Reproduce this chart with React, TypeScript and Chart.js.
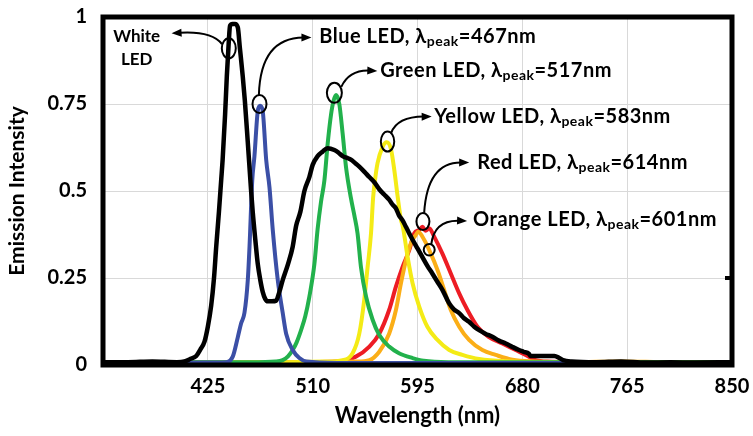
import React, { useEffect, useRef } from 'react';
import { Chart, registerables } from 'chart.js';

Chart.register(...registerables);

// ---------- data ----------
const xMin = 340;
const xMax = 850;
const xStep = 85;
const yTicks = [0, 0.25, 0.5, 0.75, 1];

const whiteNm = [340, 360, 380, 400, 406, 411, 415.6, 419, 422.3, 425, 427.7, 430, 431.8, 434, 435.8, 437, 439, 440.4, 442, 443, 445, 447, 449.3, 451, 453.3, 455, 457.4, 460.1, 461.4, 463.5, 465.5, 467.5, 469.5, 471.5, 473.6, 477, 480.4, 483, 485.7, 490, 493.8, 496.6, 500, 503.3, 507.3, 510, 514, 518, 522, 527.6, 531, 534.3, 538, 541, 544.5, 547.8, 552, 555.9, 560, 564, 568, 572, 575, 577.5, 580, 583, 585.6, 588, 591, 595, 599, 603, 607, 611, 615.2, 620.7, 624.5, 628.8, 632.5, 636.8, 641, 645, 650, 655.7, 661, 666.6, 672, 677.3, 681, 685.4, 686.5, 695, 706, 710, 713, 720, 740, 760, 780, 800, 820, 850];
const whiteVal = [0.008, 0.008, 0.01, 0.008, 0.01, 0.018, 0.026, 0.045, 0.067, 0.11, 0.17, 0.25, 0.34, 0.44, 0.53, 0.59, 0.72, 0.83, 0.93, 0.975, 0.98, 0.98, 0.97, 0.91, 0.83, 0.76, 0.64, 0.5, 0.44, 0.36, 0.29, 0.245, 0.21, 0.19, 0.183, 0.183, 0.185, 0.21, 0.244, 0.29, 0.34, 0.4, 0.44, 0.5, 0.54, 0.575, 0.6, 0.613, 0.623, 0.618, 0.61, 0.6, 0.595, 0.59, 0.58, 0.57, 0.555, 0.54, 0.525, 0.505, 0.49, 0.475, 0.46, 0.45, 0.43, 0.415, 0.397, 0.38, 0.36, 0.335, 0.31, 0.285, 0.263, 0.24, 0.216, 0.177, 0.16, 0.149, 0.135, 0.124, 0.11, 0.1, 0.09, 0.081, 0.07, 0.062, 0.052, 0.043, 0.038, 0.032, 0.026, 0.026, 0.026, 0.02, 0.014, 0.01, 0.008, 0.01, 0.007, 0.008, 0.007, 0.008];

const blueNm = [340, 380, 420, 440, 445.2, 449.3, 452, 454.7, 457.4, 458.8, 461, 462.8, 465.5, 467.4, 469.5, 472.3, 475, 477.6, 481.7, 485.7, 488.5, 493.8, 499.2, 505, 530, 560, 600, 650, 700, 750, 800, 850];
const blueVal = [0.006, 0.006, 0.007, 0.008, 0.024, 0.08, 0.12, 0.15, 0.244, 0.34, 0.53, 0.6, 0.73, 0.745, 0.73, 0.59, 0.51, 0.39, 0.244, 0.15, 0.09, 0.043, 0.02, 0.01, 0.006, 0.006, 0.006, 0.006, 0.006, 0.006, 0.006, 0.006];

const greenNm = [340, 400, 460, 480, 485.7, 490, 493.8, 497, 500.6, 504, 507.3, 511.4, 514, 516.8, 519.5, 522.2, 524.9, 527, 529, 531.6, 534.3, 537, 541, 543.8, 546.4, 549.2, 553.3, 558.6, 564, 572, 580, 591, 600, 620, 650, 700, 750, 800, 850];
const greenVal = [0.008, 0.008, 0.008, 0.01, 0.014, 0.025, 0.043, 0.065, 0.1, 0.14, 0.196, 0.29, 0.39, 0.47, 0.53, 0.637, 0.72, 0.76, 0.776, 0.75, 0.665, 0.57, 0.48, 0.43, 0.378, 0.28, 0.196, 0.13, 0.086, 0.053, 0.034, 0.02, 0.012, 0.008, 0.008, 0.008, 0.008, 0.008, 0.008];

const yellowNm = [340, 400, 480, 520, 534.3, 542.4, 547.8, 551.8, 554.5, 557.3, 559, 560.5, 562.6, 566.7, 570, 573.5, 576.2, 578.9, 581.6, 583, 587, 591, 596.4, 603, 611.2, 620.7, 631.4, 645, 670, 700, 750, 800, 850];
const yellowVal = [0.008, 0.008, 0.008, 0.01, 0.014, 0.034, 0.09, 0.187, 0.28, 0.378, 0.48, 0.53, 0.58, 0.627, 0.64, 0.62, 0.56, 0.484, 0.417, 0.4, 0.31, 0.235, 0.168, 0.11, 0.072, 0.043, 0.029, 0.017, 0.01, 0.008, 0.008, 0.008, 0.008];

const redNm = [340, 400, 480, 530, 545, 556, 564, 572, 577.5, 582.9, 588.3, 592.3, 596.4, 599, 601.5, 604.5, 608.5, 615.2, 622, 628.8, 635.5, 643.6, 652.6, 663.8, 674.6, 682.7, 690, 700, 750, 800, 850];
const redVal = [0.008, 0.008, 0.008, 0.01, 0.024, 0.053, 0.09, 0.158, 0.225, 0.282, 0.33, 0.378, 0.388, 0.397, 0.386, 0.393, 0.369, 0.32, 0.263, 0.206, 0.158, 0.11, 0.081, 0.062, 0.043, 0.029, 0.015, 0.01, 0.008, 0.008, 0.008];

const orangeNm = [340, 400, 500, 545, 556, 564, 572, 577.5, 581.6, 585.6, 589.6, 593.7, 595.5, 600.4, 605.8, 611.2, 616.6, 622, 628.8, 636.8, 647.6, 658.4, 672, 690, 720, 760, 800, 850];
const orangeVal = [0.008, 0.008, 0.008, 0.01, 0.014, 0.038, 0.09, 0.158, 0.235, 0.3, 0.35, 0.374, 0.383, 0.36, 0.32, 0.273, 0.216, 0.158, 0.11, 0.072, 0.043, 0.029, 0.015, 0.01, 0.008, 0.01, 0.008, 0.008];

const seriesNames = ['White LED', 'Blue LED', 'Green LED', 'Yellow LED', 'Orange LED', 'Red LED'];
const peakLabels = ['467', '517', '583', '614', '601'];

// ---------- styles / annotation layout ----------
const FONT = 'Lato, "Open Sans", sans-serif';
const colors = ['#000000', '#3B4FA6', '#22B14C', '#F4EB16', '#FBAE17', '#ED1C24'];
const widths = [4.5, 4, 4, 4, 4, 4];

type Callout = {
  name: string;
  peak: string;
  circle: [number, number];
  rx: number;
  ry: number;
  from: [number, number];
  ctrl: [number, number];
  to: [number, number];
  text: [number, number];
};

const callouts: Callout[] = [
  { name: 'Blue LED, λ', peak: peakLabels[0], circle: [466.9, 0.75], rx: 7, ry: 9, from: [466.4, 0.776], ctrl: [467.7, 0.94], to: [509.0, 0.941], text: [515.4, 0.943] },
  { name: 'Green LED, λ', peak: peakLabels[1], circle: [527.6, 0.782], rx: 7.5, ry: 10, from: [533.2, 0.799], ctrl: [539.7, 0.848], to: [562.4, 0.845], text: [564.8, 0.845] },
  { name: 'Yellow LED, λ', peak: peakLabels[2], circle: [570.7, 0.642], rx: 6.7, ry: 10, from: [573.7, 0.667], ctrl: [578.6, 0.713], to: [606.5, 0.714], text: [608.5, 0.714] },
  { name: 'Red LED, λ', peak: peakLabels[3], circle: [599.4, 0.412], rx: 6.5, ry: 8.5, from: [600.4, 0.437], ctrl: [602.9, 0.583], to: [636.9, 0.582], text: [643.4, 0.583] },
  { name: 'Orange LED, λ', peak: peakLabels[4], circle: [604.5, 0.331], rx: 5.5, ry: 5.8, from: [606.1, 0.346], ctrl: [608.5, 0.417], to: [635.2, 0.414], text: [640.1, 0.417] },
];

const whiteCallout = {
  lines: ['White', 'LED'],
  circle: [442.0, 0.91] as [number, number],
  rx: 7, ry: 10,
  from: [436.5, 0.922] as [number, number],
  ctrl: [428.0, 0.96] as [number, number],
  to: [395.6, 0.953] as [number, number],
  text: [367.3, 0.945] as [number, number],
  lineGap: 0.066,
};

function toPts(nm: number[], val: number[]) {
  return nm.map((x, i) => ({ x, y: val[i] }));
}

const framePlugin = {
  id: 'frameAndCallouts',
  afterDatasetsDraw(chart: any) {
    const { ctx, chartArea } = chart;
    const xs = chart.scales.x;
    const ys = chart.scales.y;
    const P = (p: [number, number]) => [xs.getPixelForValue(p[0]), ys.getPixelForValue(p[1])];
    ctx.save();
    // frame
    ctx.strokeStyle = '#000';
    ctx.lineWidth = 5;
    ctx.strokeRect(chartArea.left, chartArea.top, chartArea.right - chartArea.left, chartArea.bottom - chartArea.top);
    // small tick on right border
    ctx.lineWidth = 4;
    ctx.beginPath();
    const ty = ys.getPixelForValue(yTicks[1]);
    ctx.moveTo(chartArea.right - 7, ty);
    ctx.lineTo(chartArea.right, ty);
    ctx.stroke();

    const drawArrow = (from: [number, number], ctrl: [number, number], to: [number, number], cx: number, cy: number, rx: number, ry: number) => {
      const [ex, ey] = P(to);
      const [fx, fy] = P(from);
      const [qx, qy] = P(ctrl);
      ctx.strokeStyle = '#000';
      ctx.lineWidth = 2;
      ctx.beginPath();
      ctx.ellipse(cx, cy, rx, ry, 0, 0, Math.PI * 2);
      ctx.stroke();
      const ang = Math.atan2(ey - qy, ex - qx);
      const headLen = 10;
      const bx = ex - headLen * 0.8 * Math.cos(ang);
      const by = ey - headLen * 0.8 * Math.sin(ang);
      ctx.beginPath();
      ctx.moveTo(fx, fy);
      ctx.quadraticCurveTo(qx, qy, bx, by);
      ctx.stroke();
      ctx.fillStyle = '#000';
      ctx.beginPath();
      ctx.moveTo(ex, ey);
      ctx.lineTo(ex - headLen * Math.cos(ang) + 4 * Math.sin(ang), ey - headLen * Math.sin(ang) - 4 * Math.cos(ang));
      ctx.lineTo(ex - headLen * Math.cos(ang) - 4 * Math.sin(ang), ey - headLen * Math.sin(ang) + 4 * Math.cos(ang));
      ctx.closePath();
      ctx.fill();
    };

    // white callout
    {
      const [cx, cy] = P(whiteCallout.circle);
      drawArrow(whiteCallout.from, whiteCallout.ctrl, whiteCallout.to, cx, cy, whiteCallout.rx, whiteCallout.ry);
      ctx.font = `bold 17px ${FONT}`;
      ctx.textAlign = 'center';
      ctx.textBaseline = 'middle';
      ctx.fillStyle = '#000';
      whiteCallout.lines.forEach((t, i) => {
        const [tx, tyy] = P([whiteCallout.text[0], whiteCallout.text[1] - i * whiteCallout.lineGap]);
        ctx.fillText(t, tx, tyy);
      });
    }

    for (const c of callouts) {
      const [cx, cy] = P(c.circle);
      drawArrow(c.from, c.ctrl, c.to, cx, cy, c.rx, c.ry);
      const [tx, tyy] = P(c.text);
      ctx.fillStyle = '#000';
      ctx.textAlign = 'left';
      ctx.textBaseline = 'middle';
      (ctx as any).letterSpacing = '0.5px';
      ctx.font = `bold 20px ${FONT}`;
      ctx.fillText(c.name, tx, tyy);
      let x = tx + ctx.measureText(c.name).width;
      ctx.font = `bold 14px ${FONT}`;
      ctx.fillText('peak', x, tyy + 5);
      x += ctx.measureText('peak').width;
      ctx.font = `bold 20px ${FONT}`;
      ctx.fillText('=' + c.peak + 'nm', x, tyy);
      (ctx as any).letterSpacing = '0px';
    }
    ctx.restore();
  },
};

export default function App() {
  const ref = useRef<HTMLCanvasElement | null>(null);
  useEffect(() => {
    if (!ref.current) return;
    const seriesPts = [
      toPts(whiteNm, whiteVal),
      toPts(blueNm, blueVal),
      toPts(greenNm, greenVal),
      toPts(yellowNm, yellowVal),
      toPts(orangeNm, orangeVal),
      toPts(redNm, redVal),
    ];
    const chart = new Chart(ref.current, {
      type: 'line',
      data: {
        datasets: seriesPts.map((pts, i) => ({
          label: seriesNames[i],
          data: pts,
          borderColor: colors[i],
          backgroundColor: colors[i],
          borderWidth: widths[i],
          pointRadius: 0,
          cubicInterpolationMode: 'monotone' as const,
          order: i,
          borderJoinStyle: 'round' as const,
        })),
      },
      options: {
        animation: false,
        responsive: false,
        devicePixelRatio: 1,
        layout: { padding: { top: 17, right: 21, left: 0, bottom: 0 } },
        plugins: { legend: { display: false }, tooltip: { enabled: false } },
        scales: {
          x: {
            type: 'linear',
            min: xMin,
            max: xMax,
            afterFit: (s: any) => { s.height = 71; s.paddingLeft = 0; s.paddingRight = 0; },
            afterBuildTicks: (s: any) => {
              const t = [];
              for (let v = xMin; v <= xMax; v += xStep) t.push({ value: v });
              s.ticks = t;
            },
            ticks: {
              autoSkip: false,
              maxRotation: 0,
              padding: 10,
              color: '#000',
              font: { family: FONT, size: 20, weight: 'bold' },
              callback: (v: any) => (v === xMin ? '' : String(v)),
            },
            grid: { color: '#d9d9d9', lineWidth: 1, drawTicks: false },
            border: { display: false },
            title: {
              display: true,
              text: 'Wavelength (nm)',
              color: '#000',
              font: { family: FONT, size: 22, weight: 'bold' },
              padding: { top: 0, bottom: 7 },
            },
          },
          y: {
            type: 'linear',
            min: 0,
            max: 1,
            afterFit: (s: any) => { s.width = 103; s.paddingTop = 0; s.paddingBottom = 0; },
            afterBuildTicks: (s: any) => { s.ticks = yTicks.map((v) => ({ value: v })); },
            ticks: {
              padding: 16,
              color: '#000',
              font: { family: FONT, size: 20, weight: 'bold' },
              callback: (v: any) => String(v),
            },
            grid: { color: '#d9d9d9', lineWidth: 1, drawTicks: false },
            border: { display: false },
            title: {
              display: true,
              text: 'Emission Intensity',
              color: '#000',
              font: { family: FONT, size: 21, weight: 'bold' },
              padding: { top: 5, bottom: 0 },
            },
          },
        },
      },
      plugins: [framePlugin],
    });
    return () => chart.destroy();
  }, []);
  return (
    <div style={{ position: 'absolute', left: 0, top: 0, width: 753, height: 436, background: '#fff' }}>
      <canvas ref={ref} width={753} height={436} />
    </div>
  );
}
